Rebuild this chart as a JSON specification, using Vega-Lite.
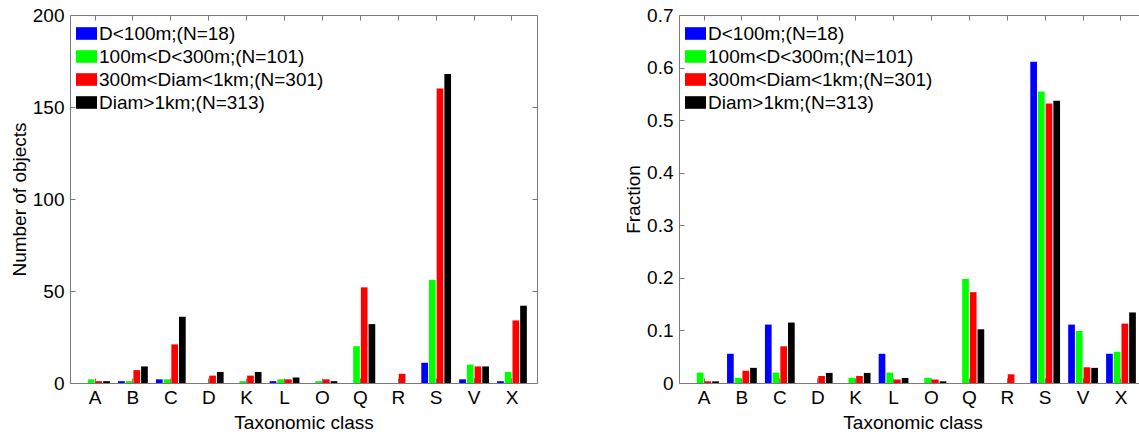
{
  "$schema": "https://vega.github.io/schema/vega-lite/v6.json",
  "padding": {"left": 9, "top": 5, "right": 0, "bottom": 0},
  "background": "white",
  "config": {
    "font": "Liberation Sans",
    "view": {"stroke": "#7a7a7a", "strokeWidth": 1},
    "axis": {
      "domain": false,
      "grid": false,
      "tickSize": -5,
      "tickColor": "#7a7a7a",
      "labelFont": "Liberation Sans",
      "labelFontSize": 19,
      "labelColor": "#000000",
      "titleFont": "Liberation Sans",
      "titleFontSize": 19,
      "titleFontWeight": "normal",
      "titleColor": "#000000"
    },
    "legend": {
      "labelFont": "Liberation Sans",
      "labelFontSize": 19,
      "labelColor": "#000000",
      "labelLimit": 400
    }
  },
  "datasets": {
    "d": [
      {"cls": "A", "size": "D<100m;(N=18)", "count": 0, "fraction": 0},
      {"cls": "A", "size": "100m<D<300m;(N=101)", "count": 2, "fraction": 0.0198},
      {"cls": "A", "size": "300m<Diam<1km;(N=301)", "count": 1, "fraction": 0.0033},
      {"cls": "A", "size": "Diam>1km;(N=313)", "count": 1, "fraction": 0.0032},
      {"cls": "B", "size": "D<100m;(N=18)", "count": 1, "fraction": 0.0556},
      {"cls": "B", "size": "100m<D<300m;(N=101)", "count": 1, "fraction": 0.0099},
      {"cls": "B", "size": "300m<Diam<1km;(N=301)", "count": 7, "fraction": 0.0233},
      {"cls": "B", "size": "Diam>1km;(N=313)", "count": 9, "fraction": 0.0288},
      {"cls": "C", "size": "D<100m;(N=18)", "count": 2, "fraction": 0.1111},
      {"cls": "C", "size": "100m<D<300m;(N=101)", "count": 2, "fraction": 0.0198},
      {"cls": "C", "size": "300m<Diam<1km;(N=301)", "count": 21, "fraction": 0.0698},
      {"cls": "C", "size": "Diam>1km;(N=313)", "count": 36, "fraction": 0.115},
      {"cls": "D", "size": "D<100m;(N=18)", "count": 0, "fraction": 0},
      {"cls": "D", "size": "100m<D<300m;(N=101)", "count": 0, "fraction": 0},
      {"cls": "D", "size": "300m<Diam<1km;(N=301)", "count": 4, "fraction": 0.0133},
      {"cls": "D", "size": "Diam>1km;(N=313)", "count": 6, "fraction": 0.0192},
      {"cls": "K", "size": "D<100m;(N=18)", "count": 0, "fraction": 0},
      {"cls": "K", "size": "100m<D<300m;(N=101)", "count": 1, "fraction": 0.0099},
      {"cls": "K", "size": "300m<Diam<1km;(N=301)", "count": 4, "fraction": 0.0133},
      {"cls": "K", "size": "Diam>1km;(N=313)", "count": 6, "fraction": 0.0192},
      {"cls": "L", "size": "D<100m;(N=18)", "count": 1, "fraction": 0.0556},
      {"cls": "L", "size": "100m<D<300m;(N=101)", "count": 2, "fraction": 0.0198},
      {"cls": "L", "size": "300m<Diam<1km;(N=301)", "count": 2, "fraction": 0.0066},
      {"cls": "L", "size": "Diam>1km;(N=313)", "count": 3, "fraction": 0.0096},
      {"cls": "O", "size": "D<100m;(N=18)", "count": 0, "fraction": 0},
      {"cls": "O", "size": "100m<D<300m;(N=101)", "count": 1, "fraction": 0.0099},
      {"cls": "O", "size": "300m<Diam<1km;(N=301)", "count": 2, "fraction": 0.0066},
      {"cls": "O", "size": "Diam>1km;(N=313)", "count": 1, "fraction": 0.0032},
      {"cls": "Q", "size": "D<100m;(N=18)", "count": 0, "fraction": 0},
      {"cls": "Q", "size": "100m<D<300m;(N=101)", "count": 20, "fraction": 0.198},
      {"cls": "Q", "size": "300m<Diam<1km;(N=301)", "count": 52, "fraction": 0.1728},
      {"cls": "Q", "size": "Diam>1km;(N=313)", "count": 32, "fraction": 0.1022},
      {"cls": "R", "size": "D<100m;(N=18)", "count": 0, "fraction": 0},
      {"cls": "R", "size": "100m<D<300m;(N=101)", "count": 0, "fraction": 0},
      {"cls": "R", "size": "300m<Diam<1km;(N=301)", "count": 5, "fraction": 0.0166},
      {"cls": "R", "size": "Diam>1km;(N=313)", "count": 0, "fraction": 0},
      {"cls": "S", "size": "D<100m;(N=18)", "count": 11, "fraction": 0.6111},
      {"cls": "S", "size": "100m<D<300m;(N=101)", "count": 56, "fraction": 0.5545},
      {"cls": "S", "size": "300m<Diam<1km;(N=301)", "count": 160, "fraction": 0.5316},
      {"cls": "S", "size": "Diam>1km;(N=313)", "count": 168, "fraction": 0.5367},
      {"cls": "V", "size": "D<100m;(N=18)", "count": 2, "fraction": 0.1111},
      {"cls": "V", "size": "100m<D<300m;(N=101)", "count": 10, "fraction": 0.099},
      {"cls": "V", "size": "300m<Diam<1km;(N=301)", "count": 9, "fraction": 0.0299},
      {"cls": "V", "size": "Diam>1km;(N=313)", "count": 9, "fraction": 0.0288},
      {"cls": "X", "size": "D<100m;(N=18)", "count": 1, "fraction": 0.0556},
      {"cls": "X", "size": "100m<D<300m;(N=101)", "count": 6, "fraction": 0.0594},
      {"cls": "X", "size": "300m<Diam<1km;(N=301)", "count": 34, "fraction": 0.113},
      {"cls": "X", "size": "Diam>1km;(N=313)", "count": 42, "fraction": 0.1342}
    ]
  },
  "data": {"name": "d"},
  "spacing": 86,
  "resolve": {"legend": {"color": "independent"}, "scale": {"y": "independent"}},
  "hconcat": [
    {
      "width": 467,
      "height": 368,
      "layer": [
        {
          "mark": {"type": "bar"},
          "encoding": {
            "x": {"field": "cls", "type": "nominal", "sort": ["A","B","C","D","K","L","O","Q","R","S","V","X"],
                  "scale": {"paddingInner": 0, "paddingOuter": 0.16},
                  "axis": {"title": "Taxonomic class", "labelAngle": 0, "labelPadding": 10, "titlePadding": 6}},
            "xOffset": {"field": "size", "type": "nominal", "sort": ["D<100m;(N=18)","100m<D<300m;(N=101)","300m<Diam<1km;(N=301)","Diam>1km;(N=313)"],
                  "scale": {"paddingInner": 0.13, "paddingOuter": 0.53}},
            "y": {"field": "count", "type": "quantitative", "scale": {"domain": [0, 200], "nice": false},
                  "axis": {"values": [0, 50, 100, 150, 200], "title": "Number of objects", "labelPadding": 11, "titlePadding": 3}},
            "color": {"field": "size", "type": "nominal", "sort": ["D<100m;(N=18)","100m<D<300m;(N=101)","300m<Diam<1km;(N=301)","Diam>1km;(N=313)"],
                  "scale": {"domain": ["D<100m;(N=18)","100m<D<300m;(N=101)","300m<Diam<1km;(N=301)","Diam>1km;(N=313)"], "range": ["#0000FF","#00FF00","#FF0000","#000000"]},
                  "legend": {"title": null, "orient": "none", "legendX": 6, "legendY": 8, "padding": 0, "rowPadding": 2,
                             "symbolType": "M-1,-0.6H1V0.6H-1Z", "symbolSize": 441, "symbolStrokeWidth": 0, "labelOffset": 2}}
          }
        },
        {
          "mark": {"type": "bar", "opacity": 0},
          "encoding": {
            "x": {"field": "cls", "type": "nominal", "sort": ["A","B","C","D","K","L","O","Q","R","S","V","X"],
                  "axis": {"orient": "top", "labels": false, "title": null}},
            "xOffset": {"field": "size", "type": "nominal", "sort": ["D<100m;(N=18)","100m<D<300m;(N=101)","300m<Diam<1km;(N=301)","Diam>1km;(N=313)"]},
            "y": {"field": "count", "type": "quantitative",
                  "axis": {"orient": "right", "values": [0, 50, 100, 150, 200], "labels": false, "title": null}}
          }
        }
      ],
      "resolve": {"axis": {"x": "independent", "y": "independent"}}
    },
    {
      "width": 467,
      "height": 368,
      "layer": [
        {
          "mark": {"type": "bar"},
          "encoding": {
            "x": {"field": "cls", "type": "nominal", "sort": ["A","B","C","D","K","L","O","Q","R","S","V","X"],
                  "scale": {"paddingInner": 0, "paddingOuter": 0.16},
                  "axis": {"title": "Taxonomic class", "labelAngle": 0, "labelPadding": 10, "titlePadding": 6}},
            "xOffset": {"field": "size", "type": "nominal", "sort": ["D<100m;(N=18)","100m<D<300m;(N=101)","300m<Diam<1km;(N=301)","Diam>1km;(N=313)"],
                  "scale": {"paddingInner": 0.13, "paddingOuter": 0.53}},
            "y": {"field": "fraction", "type": "quantitative", "scale": {"domain": [0, 0.7], "nice": false},
                  "axis": {"values": [0, 0.1, 0.2, 0.3, 0.4, 0.5, 0.6, 0.7], "title": "Fraction", "labelPadding": 11, "titlePadding": 3,
                           "labelExpr": "datum.value == 0 ? '0' : format(datum.value, '.1f')"}},
            "color": {"field": "size", "type": "nominal", "sort": ["D<100m;(N=18)","100m<D<300m;(N=101)","300m<Diam<1km;(N=301)","Diam>1km;(N=313)"],
                  "scale": {"domain": ["D<100m;(N=18)","100m<D<300m;(N=101)","300m<Diam<1km;(N=301)","Diam>1km;(N=313)"], "range": ["#0000FF","#00FF00","#FF0000","#000000"]},
                  "legend": {"title": null, "orient": "none", "legendX": 6, "legendY": 8, "padding": 0, "rowPadding": 2,
                             "symbolType": "M-1,-0.6H1V0.6H-1Z", "symbolSize": 441, "symbolStrokeWidth": 0, "labelOffset": 2}}
          }
        },
        {
          "mark": {"type": "bar", "opacity": 0},
          "encoding": {
            "x": {"field": "cls", "type": "nominal", "sort": ["A","B","C","D","K","L","O","Q","R","S","V","X"],
                  "axis": {"orient": "top", "labels": false, "title": null}},
            "xOffset": {"field": "size", "type": "nominal", "sort": ["D<100m;(N=18)","100m<D<300m;(N=101)","300m<Diam<1km;(N=301)","Diam>1km;(N=313)"]},
            "y": {"field": "fraction", "type": "quantitative",
                  "axis": {"orient": "right", "values": [0, 0.1, 0.2, 0.3, 0.4, 0.5, 0.6, 0.7], "labels": false, "title": null}}
          }
        }
      ],
      "resolve": {"axis": {"x": "independent", "y": "independent"}}
    }
  ]
}
